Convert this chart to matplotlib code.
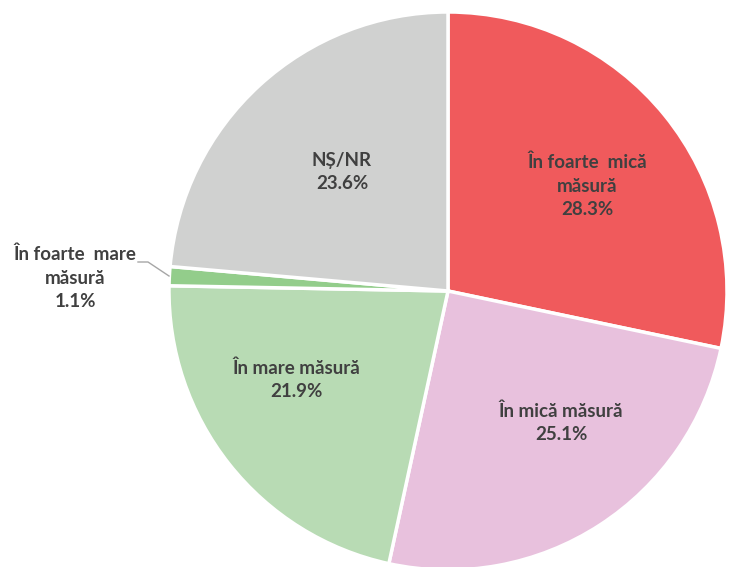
import matplotlib.pyplot as plt

labels = ['În foarte  mică\nmăsură', 'În mică măsură', 'În mare măsură', 'În foarte  mare\nmăsură', 'NȘ/NR']
values = [28.3, 25.1, 21.9, 1.1, 23.6]
colors = ['#F05A5C', '#E8C1DD', '#B8DBB4', '#93CD8B', '#D0D1D0']

plt.rcParams['font.family'] = ['Lato', 'DejaVu Sans']

fig = plt.figure(figsize=(7.29, 5.67), dpi=100)
ax = fig.add_axes([0, 0, 1, 1])

cx, cy, r = 448, 567 - 291, 279
ax.pie(values, colors=colors, startangle=90, counterclock=False,
       center=(cx, cy), radius=r, frame=True,
       wedgeprops=dict(edgecolor='white', linewidth=2.5))
ax.set_xlim(0, 729)
ax.set_ylim(0, 567)
ax.set_aspect('equal')
ax.axis('off')

txt = dict(ha='center', va='center', fontsize=13.5, fontweight='bold',
           color='#404040', linespacing=1.45)
# label positions in pixels (x, y from top)
pos = [(587, 186), (561, 423), (296, 380), (75, 278), (342, 172)]
for lab, v, (x, y) in zip(labels, values, pos):
    ax.text(x, 567 - y, f'{lab}\n{v}%', **txt)

# leader line for the small slice
ax.plot([138, 148, 169], [567 - 262, 567 - 262, 567 - 276],
        color='#A6A6A6', linewidth=1)

fig.savefig('out.png', dpi=100)
